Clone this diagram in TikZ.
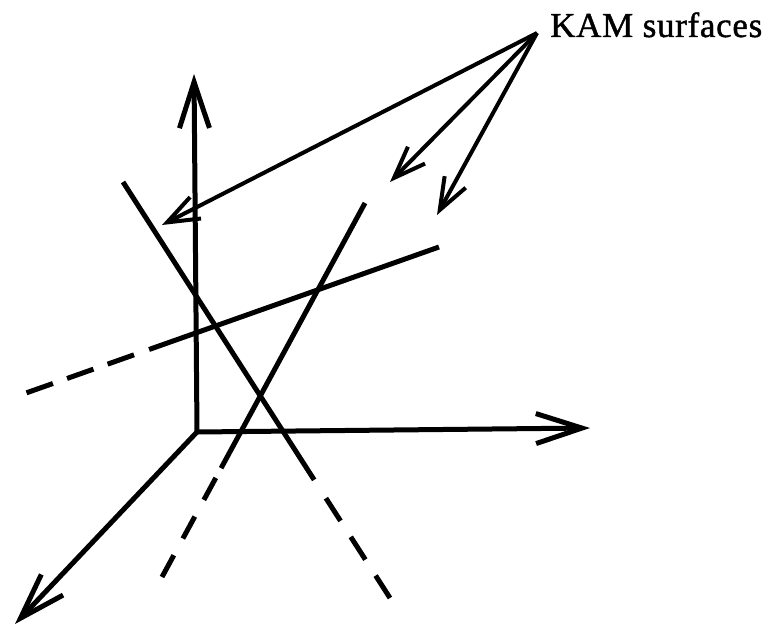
\documentclass[tikz,border=0pt]{standalone}
\usepackage{fontspec}
\newfontfamily\kamfont[LetterSpace=2,FakeBold=1.2]{Liberation Serif}
\usetikzlibrary{arrows.meta,calc}
\begin{document}
\begin{tikzpicture}[x=1pt,y=-1pt,
  axisline/.style={line width=5pt,-{Straight Barb[length=46pt,width=30pt]}},
  kamline/.style={line width=4pt,-{Straight Barb[length=32pt,width=24pt]}},
  surfline/.style={line width=5pt},
  dashA/.style={surfline,dash pattern=on 27pt off 19pt},
  dashB/.style={surfline,dash pattern=on 25pt off 19pt},
  dashC/.style={surfline,dash pattern=on 28pt off 15pt}]
\useasboundingbox (0,0) rectangle (770,631);
% axes
\coordinate (O) at (197,432);
\coordinate (Y) at (194,74);
\coordinate (X) at (590,428);
\coordinate (Z) at (15,624);
\draw[axisline] (O) -- (Y);
\draw[axisline] (O) -- (X);
\draw[axisline] (O) -- (Z);
% surfaces (lines)
\coordinate (a1) at (123,182);
\coordinate (a2) at (390,598);
\coordinate (b1) at (365,203);
\coordinate (b2) at (162,577);
\coordinate (c1) at (439,247);
\coordinate (c2) at (26,393);
\coordinate (aS) at ($(a1)!0.716!(a2)$);
\coordinate (aD) at ($(a1)!0.760!(a2)$);
\coordinate (bS) at ($(b1)!0.709!(b2)$);
\coordinate (bD) at ($(b1)!0.735!(b2)$);
\coordinate (cS) at ($(c1)!0.702!(c2)$);
\coordinate (cD) at ($(c1)!0.7385!(c2)$);
\draw[surfline] (a1) -- (aS);
\draw[dashA] (aD) -- (a2);
\draw[surfline] (b1) -- (bS);
\draw[dashB] (bD) -- (b2);
\draw[surfline] (c1) -- (cS);
\draw[dashC] (cD) -- (c2);
% label and pointers
\node[anchor=base west,inner sep=0pt,font=\kamfont\fontsize{35}{42}\selectfont] (kam) at (550,37) {KAM surfaces};
\coordinate (S) at (537,33);
\coordinate (T1) at (162,225);
\coordinate (T2) at (390,182);
\coordinate (T3) at (437,215);
\draw[kamline] (S) -- (T1);
\draw[kamline] (S) -- (T2);
\draw[kamline] (S) -- (T3);
\end{tikzpicture}
\end{document}
